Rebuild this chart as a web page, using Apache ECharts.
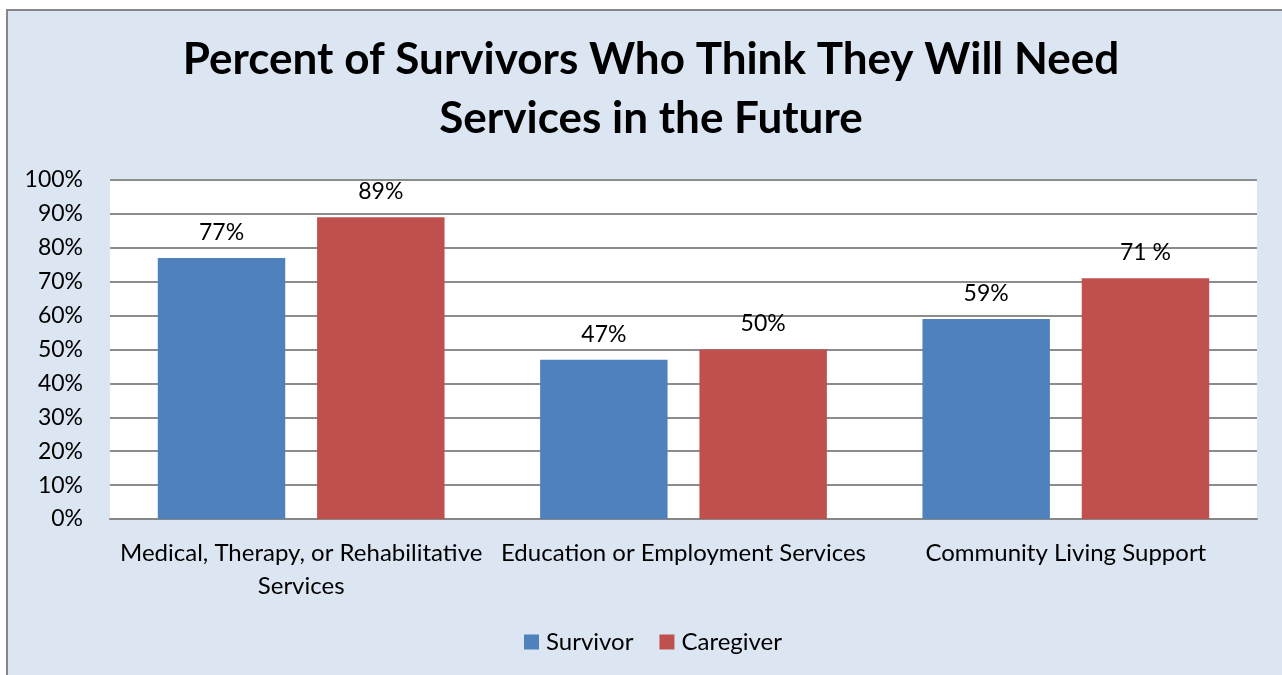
<!DOCTYPE html>
<html>
<head>
<meta charset="utf-8">
<script src="https://cdn.jsdelivr.net/npm/echarts@6/dist/echarts.min.js"></script>
<style>
  html, body { margin: 0; padding: 0; background: #ffffff; width: 1282px; height: 675px; overflow: hidden; }
  #box { position: absolute; left: 6px; top: 9px; width: 1290px; height: 680px; border: 2px solid #878787; background: #dce6f2; }
  #chart { width: 1290px; height: 680px; }
</style>
</head>
<body>
<div id="box"><div id="chart"></div></div>
<script>
const titleText = 'Percent of Survivors Who Think They Will Need\nServices in the Future';
const categories = ['Medical, Therapy, or Rehabilitative Services', 'Education or Employment Services', 'Community Living Support'];
const survivorValues = [77, 47, 59];
const caregiverValues = [89, 50, 71];
const survivorLabels = ['77%', '47%', '59%'];
const caregiverLabels = ['89%', '50%', '71 %'];
const yTicks = [0, 10, 20, 30, 40, 50, 60, 70, 80, 90, 100];

const FONT = 'Lato';
const chart = echarts.init(document.getElementById('chart'));
chart.setOption({
  animation: false,
  title: {
    text: titleText,
    left: 638,
    textAlign: 'center',
    top: 14,
    textStyle: { fontFamily: FONT, fontWeight: 'bold', fontSize: 44, lineHeight: 59, color: '#000' }
  },
  legend: {
    data: ['Survivor', 'Caregiver'],
    left: 'center',
    bottom: 32,
    itemWidth: 15,
    itemHeight: 15,
    itemGap: 26,
    icon: 'rect',
    textStyle: { fontFamily: FONT, fontSize: 24, color: '#000', padding: [0, 0, 0, 2] }
  },
  grid: {
    left: 102, right: 41, top: 169, bottom: 172,
    show: true, backgroundColor: '#ffffff', borderWidth: 0
  },
  xAxis: {
    type: 'category',
    data: categories,
    axisTick: { show: false },
    axisLine: { show: true, lineStyle: { color: '#868686', width: 2 } },
    axisLabel: {
      interval: 0,
      margin: 18,
      fontFamily: FONT, fontSize: 24, color: '#000', lineHeight: 33,
      formatter: function (v) { return v === categories[0] ? 'Medical, Therapy, or Rehabilitative\nServices' : v; }
    }
  },
  yAxis: {
    type: 'value',
    min: 0, max: 100, interval: 10,
    axisLine: { show: false },
    axisTick: { show: false },
    splitLine: { lineStyle: { color: '#8c8c8c', width: 2 } },
    axisLabel: {
      margin: 27,
      fontFamily: FONT, fontSize: 23, color: '#000',
      formatter: function (v) { return yTicks.indexOf(v) >= 0 ? v + '%' : ''; }
    }
  },
  series: [
    {
      name: 'Survivor', type: 'bar', data: survivorValues,
      barGap: '25%', barCategoryGap: '25%',
      itemStyle: { color: '#4f81bd' },
      label: { show: true, position: 'top', distance: 14, fontFamily: FONT, fontSize: 23, color: '#000',
        formatter: function (p) { return survivorLabels[p.dataIndex]; } }
    },
    {
      name: 'Caregiver', type: 'bar', data: caregiverValues,
      barGap: '25%', barCategoryGap: '25%',
      itemStyle: { color: '#c0504d' },
      label: { show: true, position: 'top', distance: 14, fontFamily: FONT, fontSize: 23, color: '#000',
        formatter: function (p) { return caregiverLabels[p.dataIndex]; } }
    }
  ]
});
</script>
</body>
</html>
